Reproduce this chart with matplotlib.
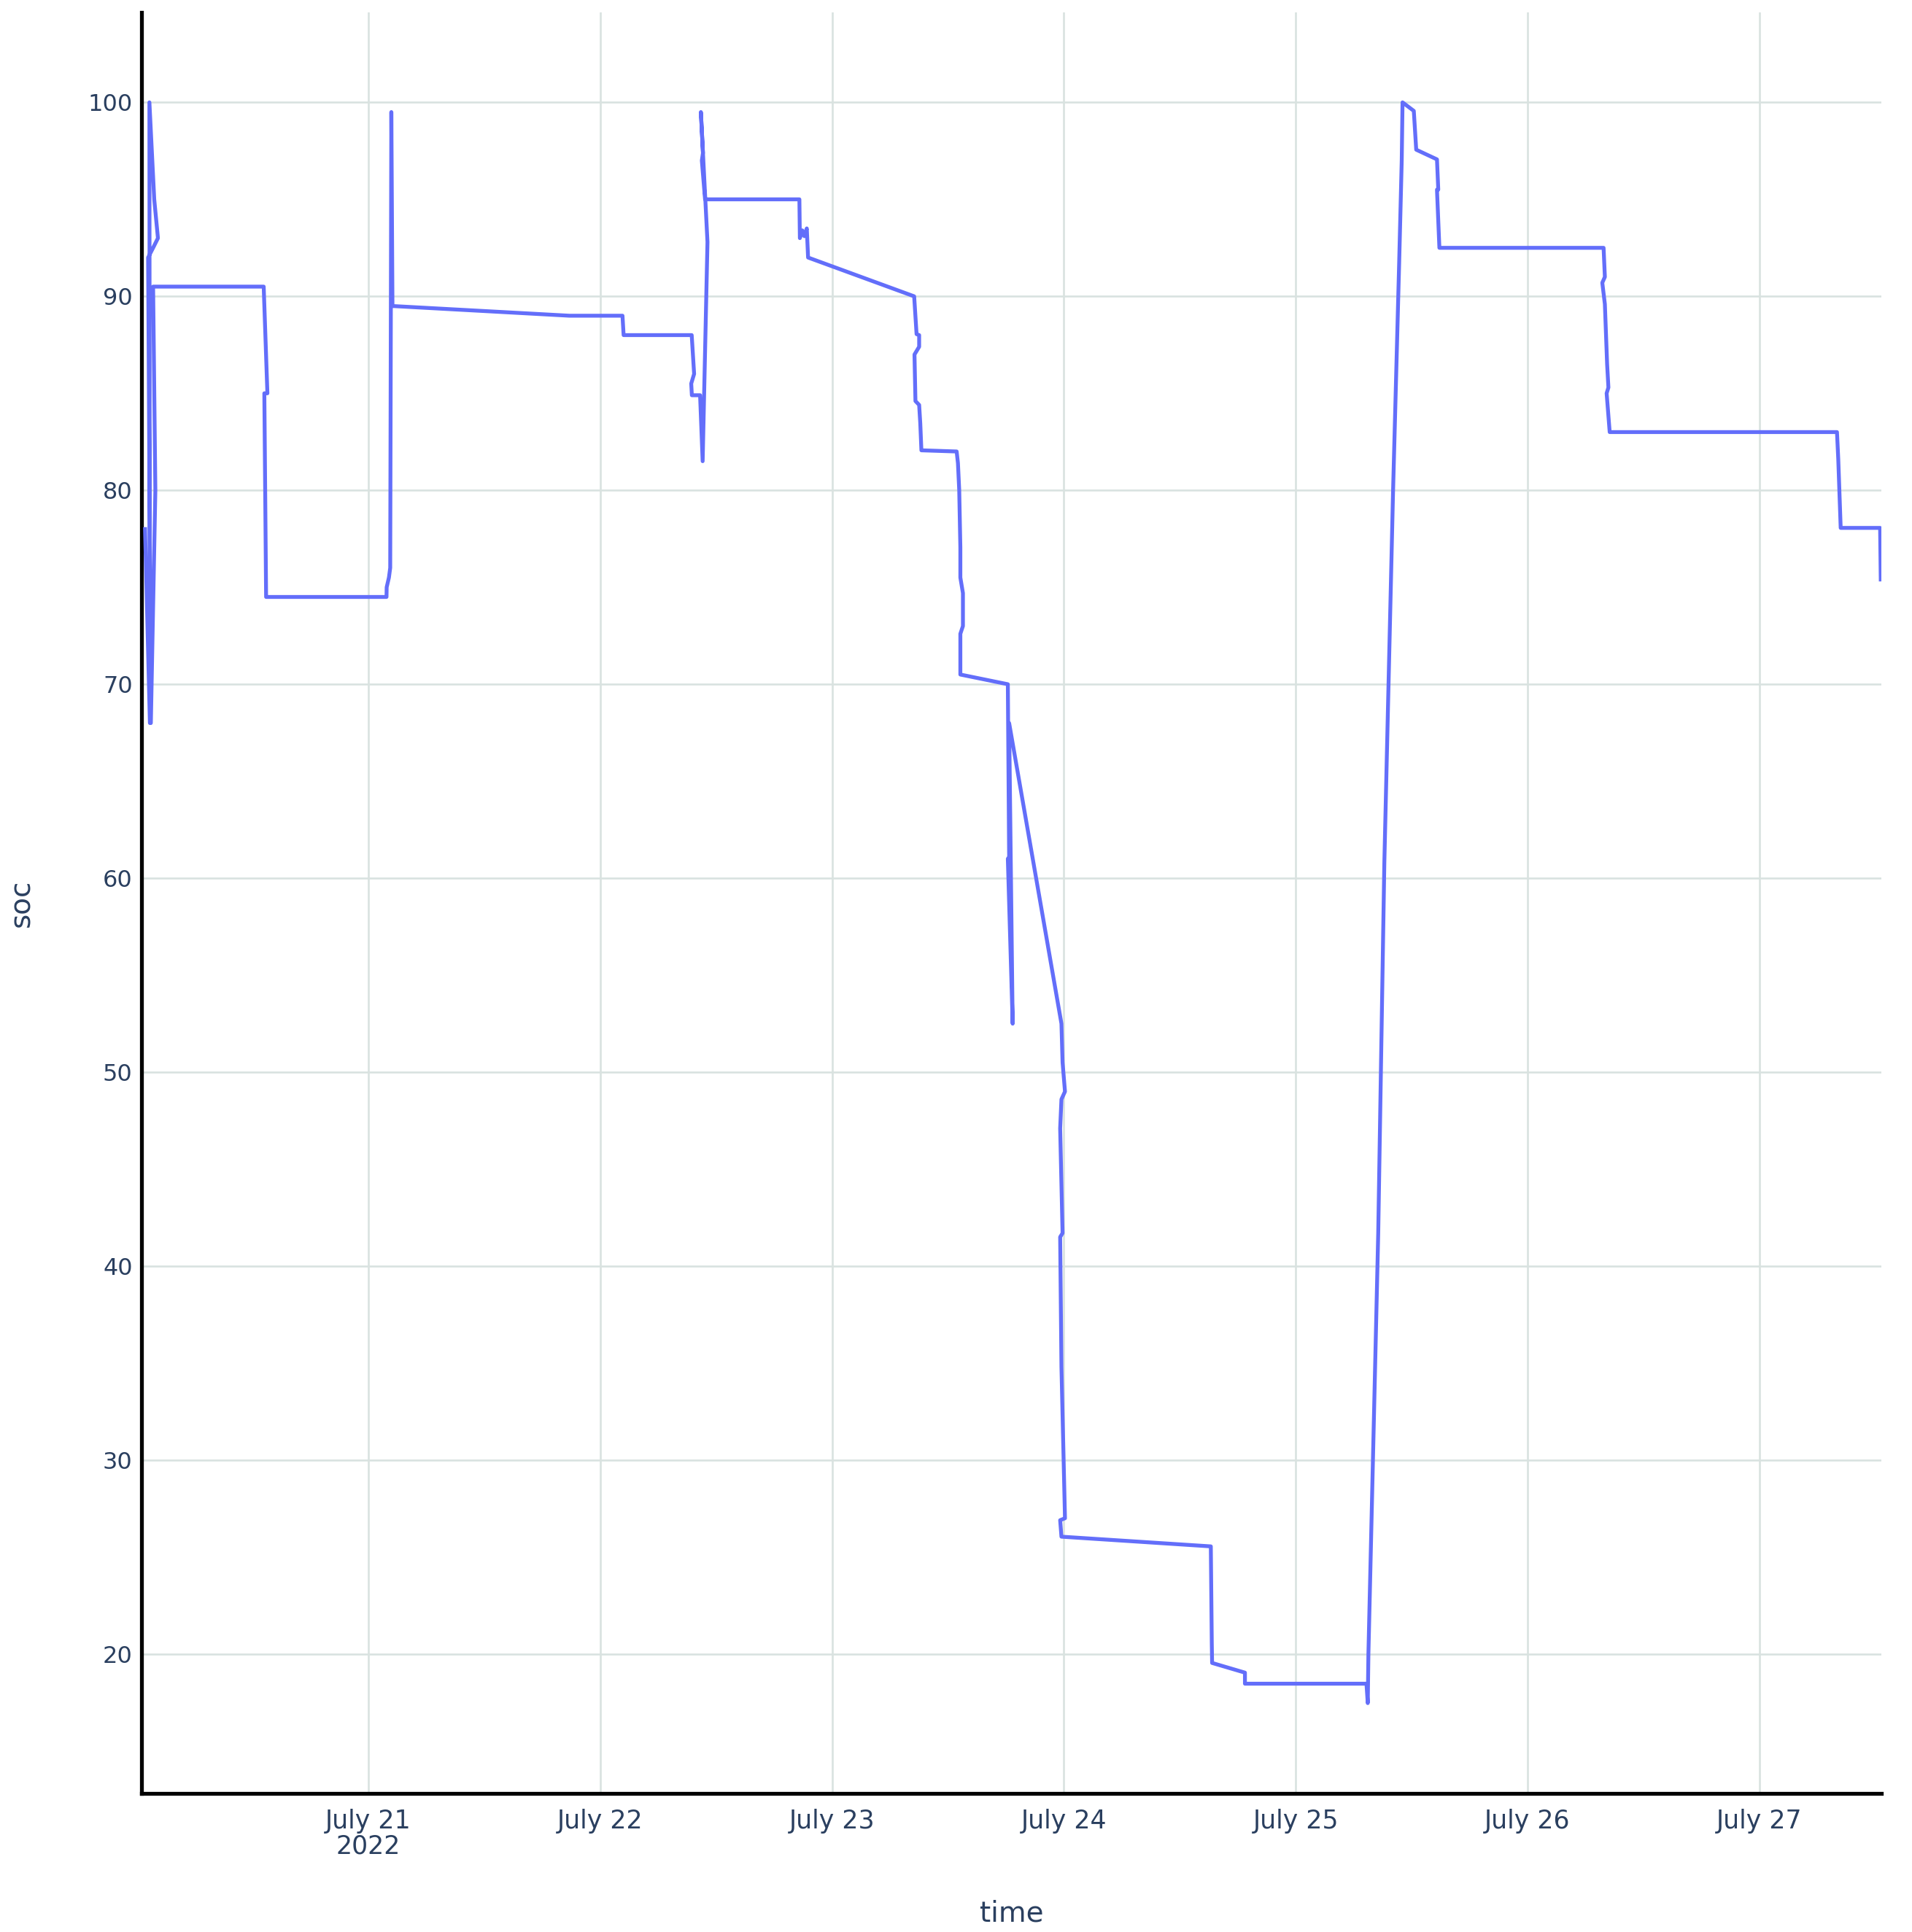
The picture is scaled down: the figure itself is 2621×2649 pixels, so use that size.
import matplotlib
matplotlib.use("Agg")
import matplotlib.pyplot as plt
import pandas as pd

# ---- data (path order, as plotted) ----
time = [
    "2022-07-20 00:52", "2022-07-20 01:22", "2022-07-20 01:19", "2022-07-20 01:49",
    "2022-07-20 02:12", "2022-07-20 01:42", "2022-07-20 01:11", "2022-07-20 01:28",
    "2022-07-20 01:56", "2022-07-20 01:42",
    "2022-07-20 13:09", "2022-07-20 13:32", "2022-07-20 13:13", "2022-07-20 13:24",
    "2022-07-21 01:52", "2022-07-21 01:53", "2022-07-21 02:07", "2022-07-21 02:15",
    "2022-07-21 02:22", "2022-07-21 02:29",
    "2022-07-21 20:48", "2022-07-22 02:18", "2022-07-22 02:25",
    "2022-07-22 09:28", "2022-07-22 09:43", "2022-07-22 09:25", "2022-07-22 09:29",
    "2022-07-22 10:20", "2022-07-22 10:36", "2022-07-22 11:06", "2022-07-22 10:25",
    "2022-07-22 10:38", "2022-07-22 10:31", "2022-07-22 10:51",
    "2022-07-22 20:37", "2022-07-22 20:40", "2022-07-22 20:55", "2022-07-22 21:08",
    "2022-07-22 21:23", "2022-07-22 21:31",
    "2022-07-23 08:30", "2022-07-23 08:45", "2022-07-23 09:01", "2022-07-23 09:01",
    "2022-07-23 08:32", "2022-07-23 08:38", "2022-07-23 09:01", "2022-07-23 09:08",
    "2022-07-23 09:15", "2022-07-23 12:54", "2022-07-23 13:02", "2022-07-23 13:10",
    "2022-07-23 13:17", "2022-07-23 13:17", "2022-07-23 13:33", "2022-07-23 13:33",
    "2022-07-23 13:17", "2022-07-23 13:17",
    "2022-07-23 18:12", "2022-07-23 18:20", "2022-07-23 18:12", "2022-07-23 18:42",
    "2022-07-23 18:20",
    "2022-07-23 23:45", "2022-07-23 23:52", "2022-07-24 00:07", "2022-07-23 23:45",
    "2022-07-23 23:37", "2022-07-23 23:52", "2022-07-23 23:37", "2022-07-23 23:45",
    "2022-07-24 00:07", "2022-07-23 23:37", "2022-07-23 23:45",
    "2022-07-24 15:13", "2022-07-24 15:19", "2022-07-24 15:21", "2022-07-24 18:45",
    "2022-07-24 18:45", "2022-07-25 07:20", "2022-07-25 07:28",
    "2022-07-25 07:32", "2022-07-25 08:33", "2022-07-25 09:11", "2022-07-25 10:05",
    "2022-07-25 10:43", "2022-07-25 10:59",
    "2022-07-25 11:04", "2022-07-25 12:14", "2022-07-25 12:22", "2022-07-25 12:29",
    "2022-07-25 14:38", "2022-07-25 14:46", "2022-07-25 14:38", "2022-07-25 14:53",
    "2022-07-26 07:53", "2022-07-26 08:01", "2022-07-26 07:45", "2022-07-26 08:01",
    "2022-07-26 08:15", "2022-07-26 08:23", "2022-07-26 08:12", "2022-07-26 08:31",
    "2022-07-27 08:03", "2022-07-27 08:11", "2022-07-27 08:26", "2022-07-27 12:31",
    "2022-07-27 12:35",
]
soc = [
    78.0, 68.0, 100.0, 95.0,
    93.0, 92.5, 92.0, 68.0,
    80.0, 90.5,
    90.5, 85.0, 85.0, 74.5,
    74.5, 75.0, 75.5, 76.0,
    99.5, 89.5,
    89.0, 89.0, 88.0,
    88.0, 86.0, 85.5, 84.9,
    84.9, 81.5, 92.8, 99.5,
    97.4, 97.0, 95.0,
    95.0, 93.0, 93.4, 93.1,
    93.5, 92.0,
    90.0, 88.05, 88.0, 87.4,
    87.0, 84.6, 84.4, 83.45,
    82.06, 82.0, 81.4, 80.0,
    77.05, 75.5, 74.7, 73.0,
    72.6, 70.5,
    70.0, 61.1, 61.0, 52.5,
    68.0,
    52.5, 50.5, 49.0, 48.6,
    47.1, 41.7, 41.5, 34.8,
    27.0, 26.9, 26.05,
    25.55, 20.54, 19.54, 19.04,
    18.47, 18.47, 17.47,
    20.0, 41.7, 60.8, 79.9,
    91.7, 97.0,
    100.0, 99.56, 98.5, 97.56,
    97.06, 95.5, 95.5, 92.5,
    92.5, 91.0, 90.7, 89.6,
    86.5, 85.3, 85.0, 83.0,
    83.0, 81.6, 78.06, 78.06,
    75.4,
]
x_range = ("2022-07-20 00:31", "2022-07-27 12:39")
x_ticks = ["2022-07-21", "2022-07-22", "2022-07-23", "2022-07-24",
           "2022-07-25", "2022-07-26", "2022-07-27"]
x_ticklabels = ["July 21\n2022", "July 22", "July 23", "July 24",
                "July 25", "July 26", "July 27"]
y_ticks = [20, 30, 40, 50, 60, 70, 80, 90, 100]
y_range = (12.82, 104.64)

# ---- drawing ----
W, H, DPI = 2621, 2649, 100
fig = plt.figure(figsize=(W / DPI, H / DPI), dpi=DPI)
ax = fig.add_axes([0.0741, 0.0718, 0.984 - 0.0741, 0.9936 - 0.0718])

t = pd.to_datetime(time)
ax.plot(t, soc, color="#636efa", lw=3.8, solid_joinstyle="round", zorder=3)

ax.set_xlim(*pd.to_datetime(list(x_range)))
ax.set_ylim(*y_range)
ax.set_xticks(pd.to_datetime(x_ticks))
ax.set_xticklabels(x_ticklabels)
ax.set_yticks(y_ticks)

txt = "#2a3f5f"
font = "DejaVu Sans"
for lab in ax.get_xticklabels():
    lab.set_fontfamily(font)
    lab.set_fontsize(25)
    lab.set_color(txt)
    lab.set_linespacing(1.05)
for lab in ax.get_yticklabels():
    lab.set_fontfamily(font)
    lab.set_fontsize(23)
    lab.set_color(txt)
ax.tick_params(axis="both", length=0)
ax.tick_params(axis="x", pad=15)
ax.tick_params(axis="y", pad=9)

ax.grid(True, color="#d9e2e0", lw=1.9, zorder=0)
ax.set_axisbelow(True)
for s in ["top", "right"]:
    ax.spines[s].set_visible(False)
for s in ["left", "bottom"]:
    ax.spines[s].set_color("black")
    ax.spines[s].set_linewidth(3.8)

ax.set_xlabel("time", fontsize=28, color=txt, fontfamily=font, labelpad=40)
ax.set_ylabel("soc", fontsize=28, color=txt, fontfamily=font, labelpad=52)

fig.savefig("out.png", dpi=DPI, facecolor="white")
